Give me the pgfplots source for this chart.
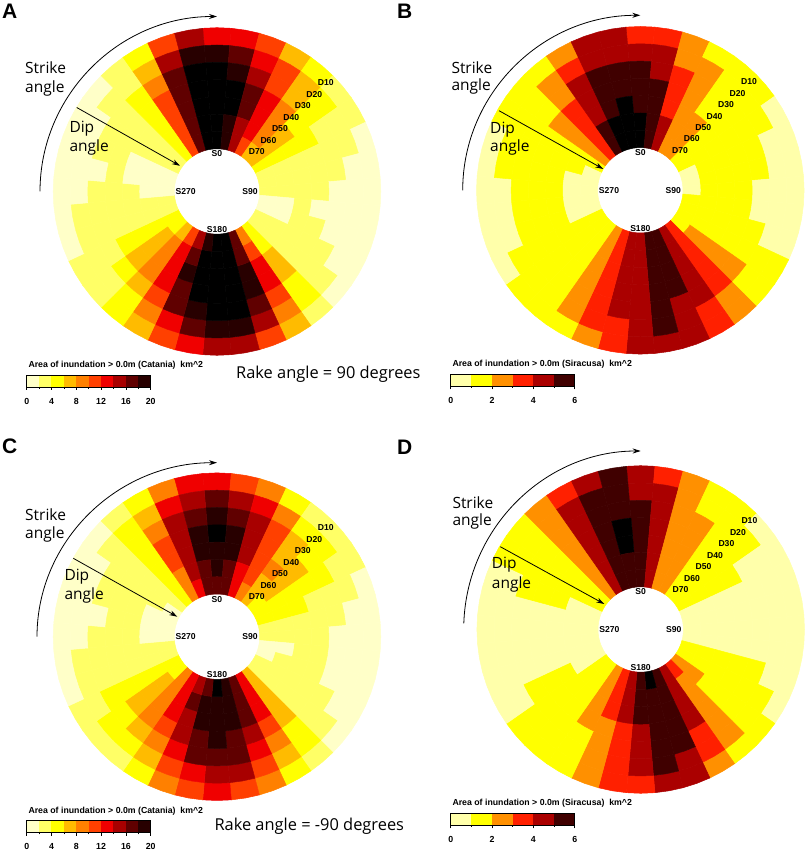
\documentclass[border=0pt]{standalone}
\usepackage{pgfplots}
\usepackage{pgfplotstable}
\usepackage{fontspec}
\pgfplotsset{compat=1.18}
\usetikzlibrary{arrows.meta}
\setmainfont{Liberation Sans}
\newfontfamily\notefont{Open Sans}

% palette of the Catania panels (classes of 2 km^2, 10 = above the scale)
\definecolor{cat0}{HTML}{FFFFC8}
\definecolor{cat1}{HTML}{FFFF66}
\definecolor{cat2}{HTML}{FFFF00}
\definecolor{cat3}{HTML}{FFBB00}
\definecolor{cat4}{HTML}{FF8000}
\definecolor{cat5}{HTML}{FF4000}
\definecolor{cat6}{HTML}{F00000}
\definecolor{cat7}{HTML}{A80000}
\definecolor{cat8}{HTML}{600000}
\definecolor{cat9}{HTML}{280000}
\definecolor{cat10}{HTML}{000000}
% palette of the Siracusa panels (classes of 1 km^2, 6 = above the scale)
\definecolor{sir0}{HTML}{FFFFAA}
\definecolor{sir1}{HTML}{FFFF00}
\definecolor{sir2}{HTML}{FF9000}
\definecolor{sir3}{HTML}{FF2000}
\definecolor{sir4}{HTML}{AA0000}
\definecolor{sir5}{HTML}{400000}
\definecolor{sir6}{HTML}{000000}

% area class per strike angle (rows) and dip angle (columns)
\pgfplotstableread{
strike d10 d20 d30 d40 d50 d60 d70
0 6 9 10 10 10 10 10
10 6 8 9 10 10 9 9
20 5 6 7 8 8 7 7
30 3 5 5 6 6 6 5
40 2 3 3 4 4 4 3
50 1 2 2 2 3 3 3
60 1 1 1 2 2 2 2
70 0 1 1 1 1 1 1
80 0 0 1 1 1 1 1
90 0 0 0 1 1 1 1
100 0 0 0 0 1 0 0
110 0 0 0 1 1 0 0
120 0 0 1 1 1 1 1
130 0 1 1 1 1 1 1
140 1 2 2 3 3 2 2
150 3 4 5 6 6 5 4
160 5 7 8 9 9 8 8
170 7 9 10 10 10 10 10
180 7 9 10 10 10 10 10
190 6 8 9 10 10 10 9
200 5 6 8 8 9 8 7
210 3 4 5 6 6 6 5
220 2 2 3 4 4 4 3
230 1 1 2 3 3 3 2
240 1 1 1 2 2 2 2
250 0 1 1 1 1 1 1
260 0 1 1 1 1 1 1
270 0 0 1 1 1 0 0
280 0 0 0 1 0 0 0
290 0 0 1 1 0 0 0
300 0 0 1 1 1 1 1
310 0 1 1 1 1 1 1
320 1 1 2 2 2 2 2
330 2 3 4 5 5 5 5
340 5 7 8 8 8 8 8
350 7 9 10 10 10 10 10
}\tableA

\pgfplotstableread{
strike d10 d20 d30 d40 d50 d60 d70
0 3 4 5 5 5 6 6
10 3 4 4 5 5 5 5
20 2 2 3 3 3 4 4
30 1 2 2 2 2 2 2
40 1 1 1 1 2 2 2
50 1 1 1 1 1 1 1
60 0 1 1 1 1 1 1
70 0 0 1 1 1 1 0
80 0 0 1 1 1 1 0
90 0 0 0 1 1 1 0
100 0 0 0 1 1 1 1
110 0 0 1 1 1 1 1
120 1 1 1 1 1 1 1
130 1 1 2 2 2 2 1
140 2 2 3 3 3 3 3
150 3 3 4 4 4 4 4
160 4 4 4 5 5 5 5
170 4 5 5 5 5 5 5
180 4 4 4 4 4 4 4
190 3 3 4 4 4 4 4
200 2 3 3 3 3 3 3
210 1 2 2 2 2 2 2
220 1 1 1 1 1 1 1
230 1 1 1 1 1 1 1
240 0 1 1 1 1 1 1
250 0 0 1 1 1 0 0
260 0 0 1 1 1 0 0
270 0 0 1 1 1 0 0
280 0 1 1 1 1 0 0
290 0 1 1 1 1 1 0
300 1 1 1 1 1 1 1
310 1 1 1 2 2 2 2
320 1 2 2 3 3 3 3
330 2 3 4 4 4 5 5
340 4 4 5 5 5 6 6
350 4 4 5 5 6 6 6
}\tableB

\pgfplotstableread{
strike d10 d20 d30 d40 d50 d60 d70
0 6 8 9 10 9 9 8
10 5 7 8 9 9 8 8
20 4 6 7 7 7 6 6
30 2 4 5 5 5 5 4
40 1 2 3 3 4 3 3
50 1 2 2 3 3 3 2
60 1 1 2 2 2 2 2
70 0 1 1 1 2 2 2
80 0 0 1 1 1 1 1
90 0 0 0 1 1 1 1
100 0 0 0 1 1 0 0
110 0 0 0 1 1 1 0
120 0 0 1 1 1 1 1
130 0 1 1 1 1 1 1
140 1 2 2 3 3 3 3
150 2 3 4 5 6 6 6
160 4 5 6 7 8 8 8
170 5 7 8 8 9 9 9
180 6 7 8 9 9 9 10
190 5 6 8 8 9 9 8
200 4 5 6 7 7 8 7
210 2 3 4 5 6 6 6
220 1 2 3 4 4 4 4
230 1 2 2 3 3 3 2
240 1 1 2 2 2 2 2
250 0 1 1 1 1 1 1
260 0 1 1 1 1 1 1
270 0 0 1 1 1 0 0
280 0 0 0 1 1 0 0
290 0 0 1 1 1 0 0
300 0 0 1 1 1 1 0
310 0 1 1 1 1 1 1
320 1 2 2 2 2 2 2
330 2 3 4 5 5 4 4
340 4 6 7 7 7 7 6
350 6 7 8 9 9 8 8
}\tableC

\pgfplotstableread{
strike d10 d20 d30 d40 d50 d60 d70
0 4 4 5 5 5 5 5
10 3 4 4 4 4 4 4
20 2 2 2 2 2 2 2
30 1 1 2 2 2 2 2
40 1 1 1 1 1 1 1
50 0 1 1 1 1 1 1
60 0 0 0 1 1 1 1
70 0 0 0 0 0 0 0
80 0 0 0 0 0 0 0
90 0 0 0 0 0 0 0
100 0 0 0 0 0 0 0
110 0 0 1 1 1 1 1
120 0 1 1 1 1 1 1
130 1 1 1 1 1 2 2
140 1 2 2 2 2 2 3
150 2 3 3 4 4 4 4
160 4 4 5 5 5 5 5
170 4 5 5 5 5 5 6
180 3 4 4 4 5 5 5
190 3 3 3 3 4 4 4
200 2 2 2 2 3 3 3
210 1 1 1 2 2 2 2
220 1 1 1 1 1 1 1
230 1 1 1 1 1 1 1
240 0 0 1 1 1 0 0
250 0 0 0 0 0 0 0
260 0 0 0 0 0 0 0
270 0 0 0 0 0 0 0
280 0 0 0 0 0 0 0
290 0 0 1 1 1 0 0
300 1 1 1 1 1 1 1
310 1 1 1 1 1 1 1
320 2 2 2 2 2 2 2
330 3 4 4 4 4 4 4
340 4 5 5 5 5 5 5
350 5 5 5 6 6 5 5
}\tableD

% one filled wedge per strike/dip cell, centred on its strike angle
\newcommand{\wedges}[2]{%
  \pgfplotsforeachungrouped \row in {0,...,35}{%
    \pgfplotsforeachungrouped \col in {1,...,7}{%
      \pgfplotstablegetelem{\row}{[index]\col}\of{#1}%
      \let\cls\pgfplotsretval
      \pgfmathsetmacro\tha{95-10*\row}%
      \pgfmathsetmacro\thm{90-10*\row}%
      \pgfmathsetmacro\thb{85-10*\row}%
      \pgfmathsetmacro\ro{163.8-17.3*(\col-1)}%
      \pgfmathsetmacro\ri{163.8-17.3*\col}%
      \edef\temp{\noexpand\addplot[data cs=polar,fill=#2\cls,draw=#2\cls,line width=0.5pt]
        coordinates {(\tha,\ro) (\thm,\ro) (\thb,\ro) (\thb,\ri) (\thm,\ri) (\tha,\ri)} --cycle;}%
      \temp
    }%
  }%
}

\newcommand{\ringlabels}{%
  \node[smalltxt] at (axis cs:0,37.6) {S0};
  \node[smalltxt] at (axis cs:33,0) {S90};
  \node[smalltxt] at (axis cs:0,-37.8) {S180};
  \node[smalltxt] at (axis cs:-31.3,0) {S270};
  \node[smalltxt] at (axis cs:108.7,108.8) {D10};
  \node[smalltxt] at (axis cs:97.2,97.2) {D20};
  \node[smalltxt] at (axis cs:85.7,85.7) {D30};
  \node[smalltxt] at (axis cs:74.3,74.2) {D40};
  \node[smalltxt] at (axis cs:62.9,62.7) {D50};
  \node[smalltxt] at (axis cs:51.4,51.3) {D60};
  \node[smalltxt] at (axis cs:39.8,39.7) {D70};
}

% #1 strike text x, #2/#3 its two y; #4 dip text x, #5/#6 its two y; #7 arc start angle, #8 arc x radius
% (y radius in \yrad); #9 dip arrow (from)--(to)
\newcommand{\notes}[9]{%
  \node[note] at (axis cs:#1,#2) {Strike};
  \node[note] at (axis cs:#1,#3) {angle};
  \node[note] at (axis cs:#4,#5) {Dip};
  \node[note] at (axis cs:#4,#6) {angle};
  \pgfmathsetmacro\sx{#8*cos(#7)}%
  \pgfmathsetmacro\sy{\yrad*sin(#7)}%
  \draw[line width=0.8pt,-{Stealth[length=8pt,width=5pt]}] (axis cs:\sx,\sy) arc[start angle=#7,end angle=90,x radius=#8,y radius=\yrad];
  \draw[line width=0.8pt,-{Stealth[length=8pt,width=5pt]}] #9;
}

\pgfplotsset{
  panel/.style={
    at={(#1)},anchor=center,
    scale only axis,width=400pt,height=400pt,
    xmin=-200,xmax=200,ymin=-200,ymax=200,
    hide axis,clip=false,
  },
  colkey/.style={
    scale only axis,anchor=north west,
    width=124pt,height=12pt,
    ymin=0,ymax=1,ytick=\empty,
    xtick pos=bottom,tick align=outside,
    axis on top,axis line style={line width=0.8pt},
    major tick length=3pt,minor tick length=1.6pt,
    tick style={black,line width=0.5pt},
    /pgf/number format/assume math mode=true,
    xticklabel style={font=\fontsize{8.8}{10}\selectfont\bfseries,yshift=-4.5pt},
  },
  catkey/.style={colkey,xmin=0,xmax=20,xtick={0,4,8,12,16,20},minor xtick={2,6,10,14,18}},
  sirkey/.style={colkey,xmin=0,xmax=6,xtick={0,2,4,6},minor xtick={1,3,5}},
}
\tikzset{
  smalltxt/.style={font=\fontsize{8.6}{10}\selectfont\bfseries,inner sep=0pt},
  note/.style={font=\fontsize{15.5}{18}\selectfont\notefont,anchor=west,inner sep=0pt},
  keytitle/.style={font=\fontsize{8.75}{10}\selectfont\bfseries,anchor=west,inner sep=0pt},
  letter/.style={font=\fontsize{21}{24}\selectfont\bfseries,anchor=west,inner sep=0pt},
  rake/.style={anchor=west,inner sep=0pt,font=\fontsize{16.4}{18}\selectfont\notefont},
}

\newcommand{\swatch}[3]{\addplot[fill=#3,draw=none] coordinates {(#1,0) (#2,0) (#2,1) (#1,1)} --cycle;}
\newcommand{\catswatches}{%
  \swatch{0}{2}{cat0}\swatch{2}{4}{cat1}\swatch{4}{6}{cat2}\swatch{6}{8}{cat3}\swatch{8}{10}{cat4}%
  \swatch{10}{12}{cat5}\swatch{12}{14}{cat6}\swatch{14}{16}{cat7}\swatch{16}{18}{cat8}\swatch{18}{20}{cat9}%
}
\newcommand{\sirswatches}{%
  \swatch{0}{1}{sir0}\swatch{1}{2}{sir1}\swatch{2}{3}{sir2}\swatch{3}{4}{sir3}\swatch{4}{5}{sir4}\swatch{5}{6}{sir5}%
}

\begin{document}
\begin{tikzpicture}[x=1pt,y=1pt]
\path[use as bounding box] (0,0) rectangle (809,852);

% ---- A
\begin{axis}[panel={217pt,660.5pt}]
\wedges{\tableA}{cat}
\ringlabels
\def\yrad{175}
\notes{-192}{123.5}{103.5}{-147.7}{62.5}{43.8}{180}{177}{(axis cs:-140.3,84) -- (axis cs:-37,25.7)}
\end{axis}
% ---- B
\begin{axis}[panel={640.3pt,661.7pt}]
\wedges{\tableB}{sir}
\ringlabels
\def\yrad{175}
\notes{-189}{122.6}{104.3}{-150.3}{61}{42.6}{180}{177.6}{(axis cs:-141.3,79.6) -- (axis cs:-37,21.3)}
\end{axis}
% ---- C
\begin{axis}[panel={217pt,215.3pt}]
\wedges{\tableC}{cat}
\ringlabels
\def\yrad{174}
\notes{-192}{121.7}{102.7}{-152.7}{60}{41}{180}{180}{(axis cs:-143.7,78.4) -- (axis cs:-39.7,20)}
\end{axis}
% ---- D
\begin{axis}[panel={640.7pt,222.5pt}]
\wedges{\tableD}{sir}
\ringlabels
\def\yrad{178.5}
\notes{-188.4}{126.8}{107.8}{-149}{64.5}{45.5}{178}{177}{(axis cs:-140.4,82.8) -- (axis cs:-36.4,25.5)}
\end{axis}

% ---- colour keys
\begin{axis}[catkey,at={(26.7pt,477pt)}]
\catswatches
\end{axis}
\begin{axis}[sirkey,at={(450.7pt,477.7pt)}]
\sirswatches
\end{axis}
\begin{axis}[catkey,at={(26.7pt,31.3pt)}]
\catswatches
\end{axis}
\begin{axis}[sirkey,at={(450.7pt,38.7pt)}]
\sirswatches
\end{axis}

% ---- texts
\node[keytitle] at (28.3,486.5) {Area of inundation > 0.0m (Catania)\ \ km\^{}2};
\node[keytitle] at (452.3,487.7) {Area of inundation > 0.0m (Siracusa)\ \ km\^{}2};
\node[keytitle] at (28.3,41) {Area of inundation > 0.0m (Catania)\ \ km\^{}2};
\node[keytitle] at (452.3,48.3) {Area of inundation > 0.0m (Siracusa)\ \ km\^{}2};
\node[rake] at (236,478) {Rake angle = 90 degrees};
\node[rake] at (214.3,25.3) {Rake angle = -90 degrees};
\node[letter] at (2,841) {A};
\node[letter] at (397,841) {B};
\node[letter] at (2,406) {C};
\node[letter] at (397,404.5) {D};
\end{tikzpicture}
\end{document}
